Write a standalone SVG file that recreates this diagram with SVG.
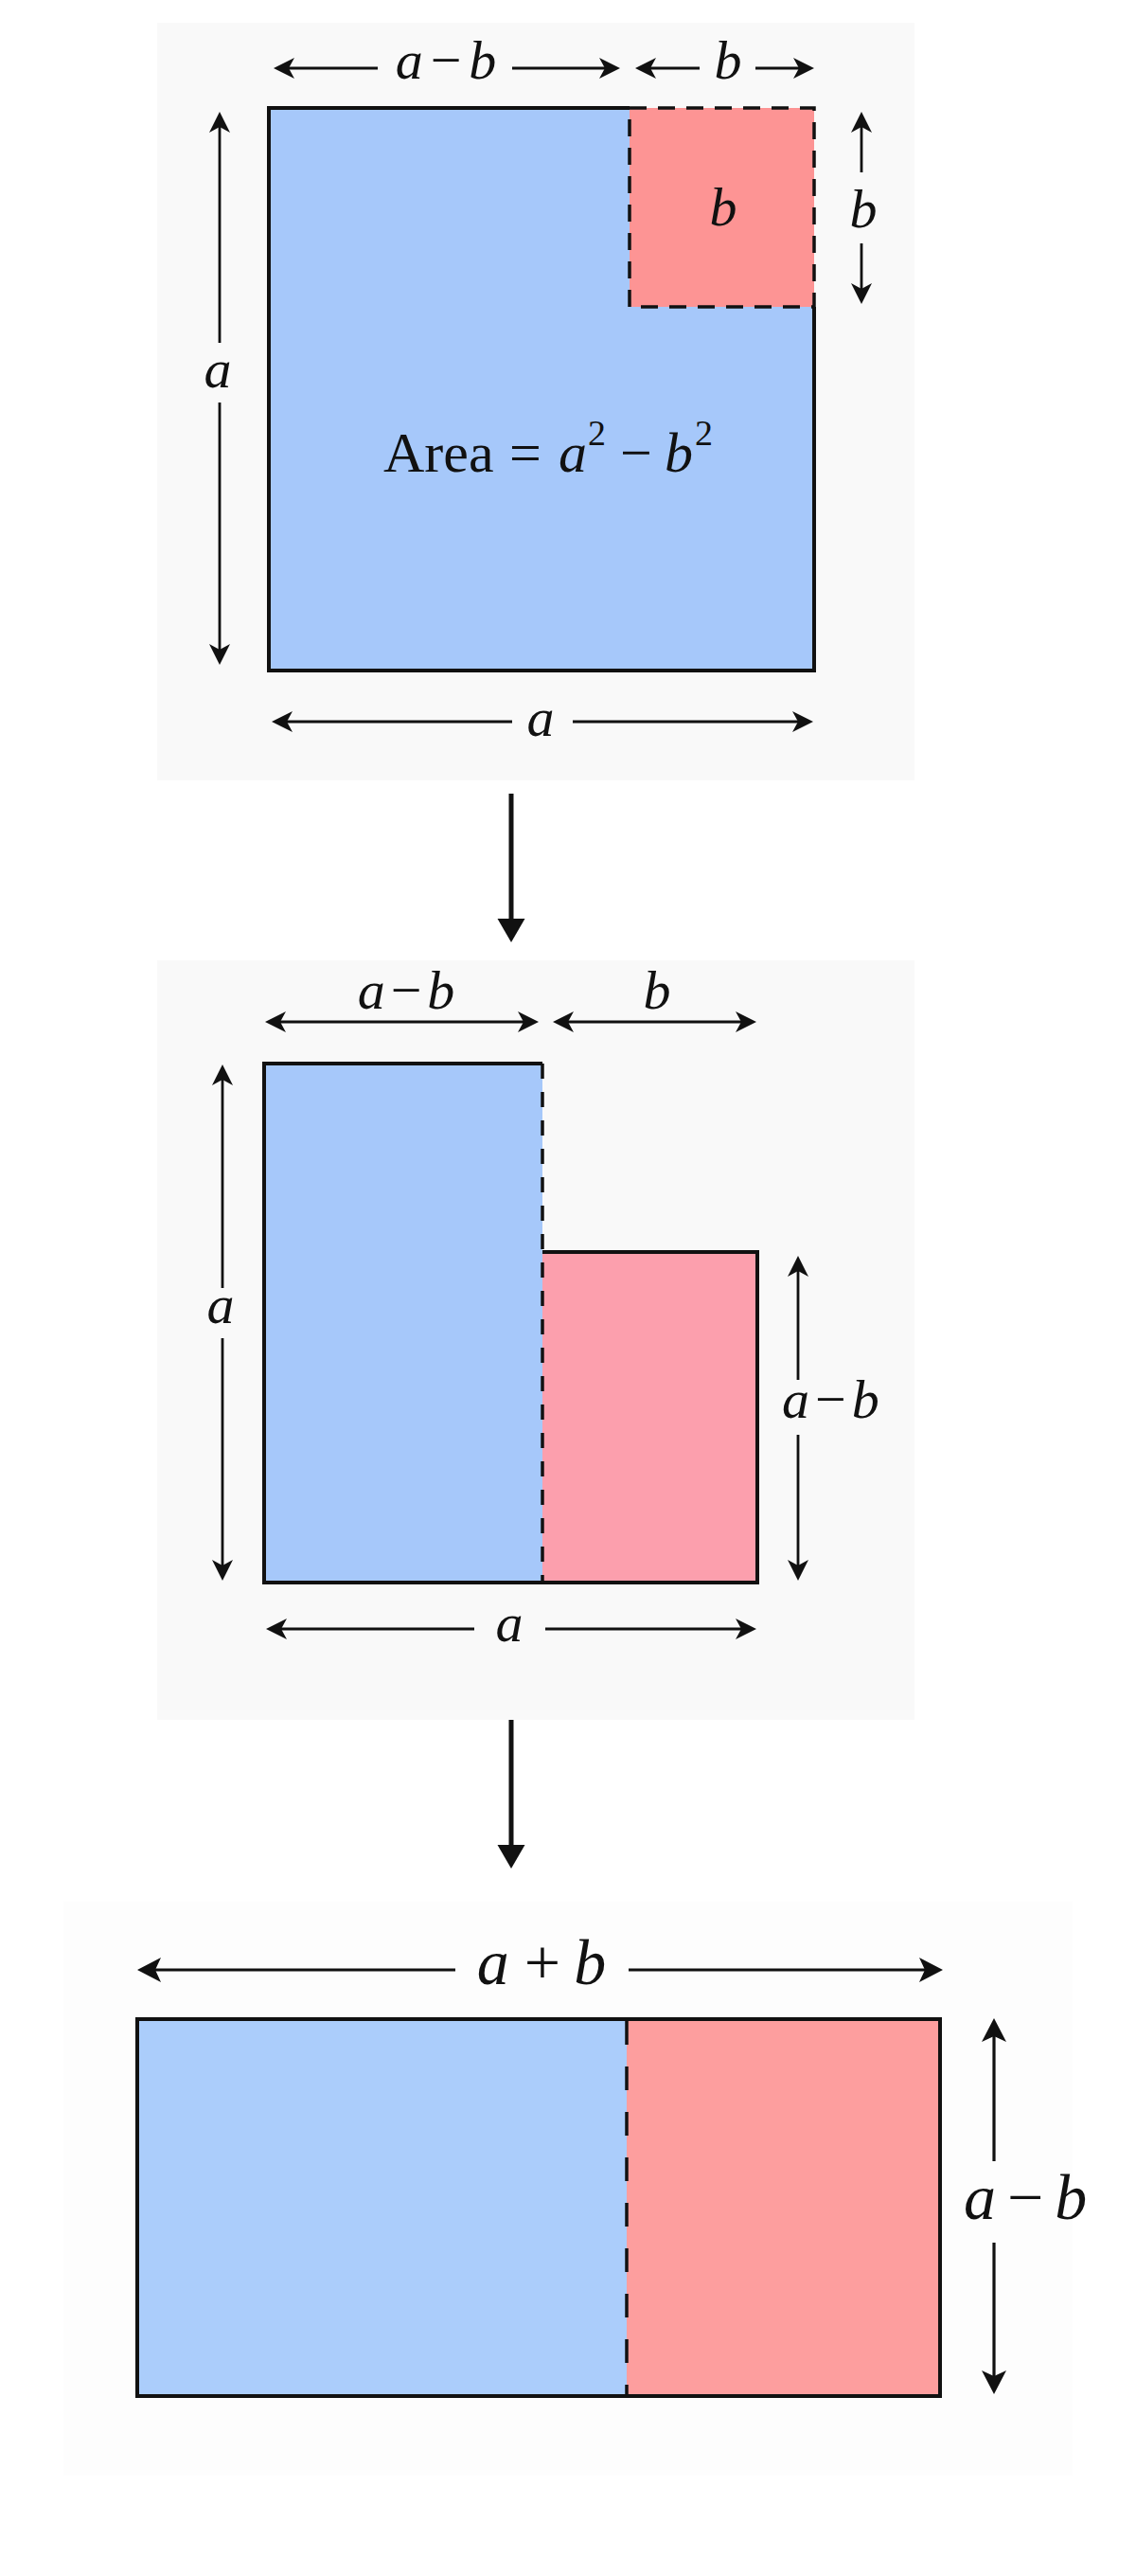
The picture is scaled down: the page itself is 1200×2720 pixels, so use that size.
<svg xmlns="http://www.w3.org/2000/svg" width="1200" height="2720" viewBox="0 0 1200 2720">
<style>
.bg1{fill:#f9f9f9}
.bg3{fill:#fdfdfd}
.blue{fill:#a6c8fa}
.blue3{fill:#abcdfb}
.red1{fill:#fd9494}
.red2{fill:#fc9fad}
.red3{fill:#fd9e9e}
.edge{fill:none;stroke:#111;stroke-width:4;stroke-linejoin:miter}
.dash{fill:none;stroke:#111;stroke-width:3.5;stroke-dasharray:18 12}
.dash2{fill:none;stroke:#111;stroke-width:3.5;stroke-dasharray:16 14}
.dash3{fill:none;stroke:#111;stroke-width:3.5;stroke-dasharray:25 23}
.dim{stroke:#111;stroke-width:3.2;fill:none;marker-end:url(#ah)}
.dimv{stroke:#111;stroke-width:2.8;fill:none;marker-end:url(#ah)}
.dim3{stroke:#111;stroke-width:3.2;fill:none;marker-end:url(#ah3)}
.flow{stroke:#111;stroke-width:5;fill:none;marker-end:url(#af)}
text{font-family:"Liberation Serif","Times New Roman",serif;fill:#111}
.m{font-style:italic;font-size:58px}
.m3{font-style:italic;font-size:68px}
.n{font-style:normal}
</style>
<defs>
<marker id="ah" markerUnits="userSpaceOnUse" orient="auto" refX="6" refY="0" markerWidth="30" markerHeight="30" overflow="visible">
<path d="M0,-11 L22,0 L0,11 L6,0 Z" fill="#111"/>
</marker>
<marker id="ah3" markerUnits="userSpaceOnUse" orient="auto" refX="6" refY="0" markerWidth="30" markerHeight="30" overflow="visible">
<path d="M0,-13 L25,0 L0,13 L6,0 Z" fill="#111"/>
</marker>
<marker id="af" markerUnits="userSpaceOnUse" orient="auto" refX="2" refY="0" markerWidth="30" markerHeight="30" overflow="visible">
<path d="M0,-14.5 L25,0 L0,14.5 Z" fill="#111"/>
</marker>
</defs>
<rect width="1200" height="2720" fill="#ffffff"/>

<g id="panel1">
<rect class="bg1" x="166" y="24" width="800" height="800"/>
<rect class="blue" x="284" y="114" width="576" height="594"/>
<rect class="red1" x="665" y="114" width="195" height="210"/>
<path class="edge" d="M665,114 H284 V708 H860 V324"/>
<rect class="dash" x="665" y="114" width="195" height="210"/>
<text class="m" x="764" y="238" text-anchor="middle">b</text>
<text x="405" y="498" font-size="60"><tspan>Area</tspan><tspan x="538">=</tspan><tspan x="590" font-style="italic">a</tspan><tspan x="621" y="470" font-size="38">2</tspan><tspan x="655" y="498">−</tspan><tspan x="702" font-style="italic">b</tspan><tspan x="734" y="470" font-size="38">2</tspan></text>
<text class="m" x="471" y="83" text-anchor="middle">a<tspan class="n" dx="8">−</tspan><tspan dx="8">b</tspan></text>
<text class="m" x="769" y="83" text-anchor="middle">b</text>
<text class="m" x="230" y="409" text-anchor="middle">a</text>
<text class="m" x="912" y="240" text-anchor="middle">b</text>
<text class="m" x="571" y="777" text-anchor="middle">a</text>
</g>

<g id="panel2">
<rect class="bg1" x="166" y="1014" width="800" height="802"/>
<rect class="blue" x="279" y="1123" width="294" height="548"/>
<rect class="red2" x="573" y="1322" width="227" height="349"/>
<path class="edge" d="M573,1123 H279 V1671 H800 V1322 H573"/>
<line class="dash2" x1="573" y1="1123" x2="573" y2="1671"/>
<text class="m" x="429" y="1065" text-anchor="middle">a<tspan class="n" dx="6">−</tspan><tspan dx="6">b</tspan></text>
<text class="m" x="694" y="1065" text-anchor="middle">b</text>
<text class="m" x="233" y="1397" text-anchor="middle">a</text>
<text class="m" x="826" y="1497">a<tspan class="n" dx="6">−</tspan><tspan dx="6">b</tspan></text>
<text class="m" x="538" y="1733" text-anchor="middle">a</text>
</g>

<g id="panel3">
<rect class="bg3" x="67" y="2008" width="1066" height="606"/>
<rect class="blue3" x="145" y="2132" width="517" height="398"/>
<rect class="red3" x="662" y="2132" width="331" height="398"/>
<rect class="edge" x="145" y="2132" width="848" height="398"/>
<line class="dash3" x1="662" y1="2134" x2="662" y2="2528"/>
<text class="m3" x="572" y="2095" text-anchor="middle">a<tspan class="n" dx="16">+</tspan><tspan dx="14">b</tspan></text>
<text class="m3" x="1018" y="2343">a<tspan class="n" dx="12">−</tspan><tspan dx="12">b</tspan></text>
</g>

<g id="connectors">
<line class="dim" x1="399" y1="72" x2="305" y2="72"/>
<line class="dim" x1="541" y1="72" x2="639" y2="72"/>
<line class="dim" x1="739" y1="72" x2="687" y2="72"/>
<line class="dim" x1="798" y1="72" x2="844" y2="72"/>
<line class="dimv" x1="232" y1="362" x2="232" y2="134"/>
<line class="dimv" x1="232" y1="425" x2="232" y2="686"/>
<line class="dimv" x1="910" y1="182" x2="910" y2="134"/>
<line class="dimv" x1="910" y1="257" x2="910" y2="305"/>
<line class="dim" x1="541" y1="762" x2="303" y2="762"/>
<line class="dim" x1="605" y1="762" x2="843" y2="762"/>
<line class="flow" x1="540" y1="838" x2="540" y2="972"/>
<line class="dim" x1="425" y1="1079" x2="296" y2="1079"/>
<line class="dim" x1="425" y1="1079" x2="553" y2="1079"/>
<line class="dim" x1="690" y1="1079" x2="600" y2="1079"/>
<line class="dim" x1="690" y1="1079" x2="783" y2="1079"/>
<line class="dimv" x1="235" y1="1360" x2="235" y2="1140"/>
<line class="dimv" x1="235" y1="1413" x2="235" y2="1653"/>
<line class="dimv" x1="843" y1="1457" x2="843" y2="1342"/>
<line class="dimv" x1="843" y1="1515" x2="843" y2="1653"/>
<line class="dim" x1="501" y1="1720" x2="297" y2="1720"/>
<line class="dim" x1="576" y1="1720" x2="783" y2="1720"/>
<line class="flow" x1="540" y1="1816" x2="540" y2="1950"/>
<line class="dim3" x1="481" y1="2080" x2="164" y2="2080"/>
<line class="dim3" x1="664" y1="2080" x2="977" y2="2080"/>
<line class="dim3" x1="1050" y1="2282" x2="1050" y2="2150"/>
<line class="dim3" x1="1050" y1="2368" x2="1050" y2="2509"/>
</g>
</svg>
